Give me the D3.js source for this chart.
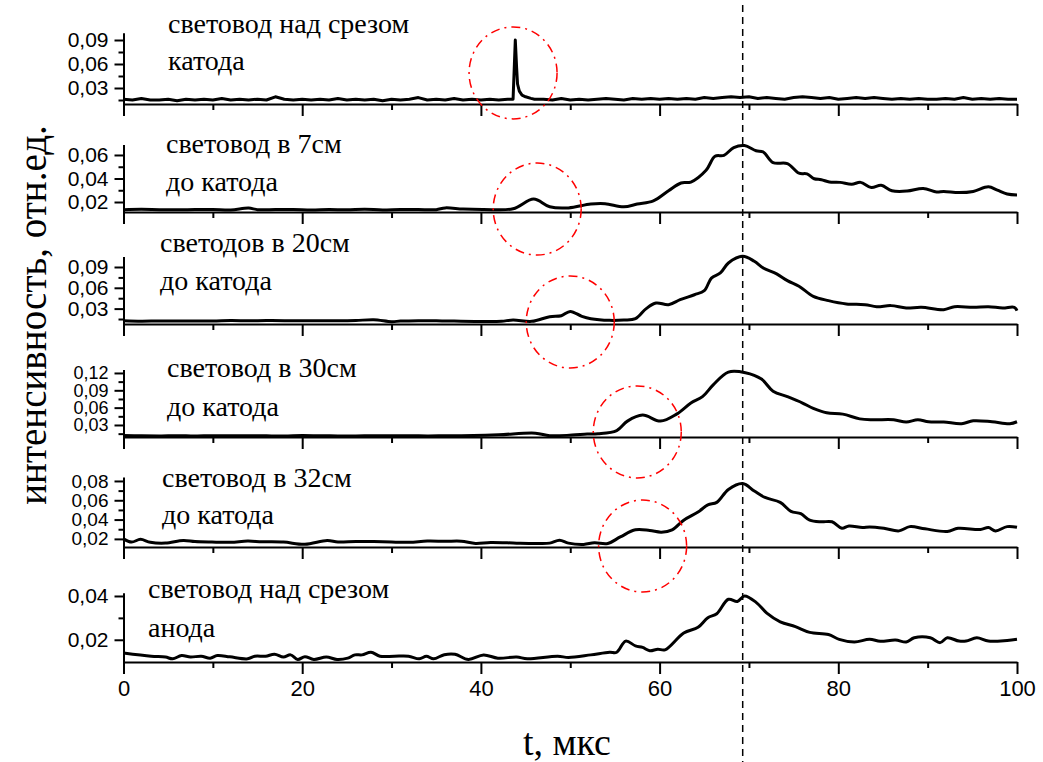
<!DOCTYPE html>
<html>
<head>
<meta charset="utf-8">
<script src="https://cdn.jsdelivr.net/npm/d3@7"></script>
<style>
  body { margin: 0; background: #fff; }
  .tick text { font-family: "Liberation Sans", Arial, sans-serif; }
  .lbl { font-family: "Liberation Serif", "Times New Roman", serif; }
</style>
</head>
<body>
<div id="viz"></div>
<script>
// ---- data: time (mks) and intensity (rel. units) for each light guide ----
var t1 = [0,1,2,3,4,5,6,7,8,9,10,11,12,13,14,15,16,17,18,19,20,21,22,23,24,25,26,27,28,29,30,31,32,33,34,35,36,37,38,39,40,41,42,43,
  43.6,43.75,43.85,44.0,44.1,44.3,44.6,45,45.6,
  46,47,48,49,50,51,52,53,54,55,56,57,58,59,60,61,62,63,64,65,66,67,68,69,70,71,72,73,74,75,76,77,78,79,80,81,82,83,84,85,86,87,88,89,90,91,92,93,94,95,96,97,98,99,100];
var v1 = [0.016,0.015,0.017,0.015,0.015,0.016,0.014,0.016,0.015,0.016,0.015,0.017,0.015,0.016,0.015,0.016,0.015,0.019,0.016,0.015,0.016,0.015,0.016,0.015,0.017,0.015,0.016,0.015,0.016,0.014,0.016,0.015,0.016,0.018,0.015,0.016,0.015,0.017,0.015,0.016,0.015,0.016,0.015,0.016,
  0.016,0.060,0.090,0.055,0.035,0.026,0.021,0.019,0.017,
  0.016,0.016,0.015,0.017,0.015,0.016,0.015,0.016,0.017,0.016,0.015,0.017,0.016,0.017,0.016,0.017,0.016,0.017,0.016,0.018,0.017,0.018,0.019,0.018,0.019,0.017,0.018,0.017,0.016,0.018,0.019,0.018,0.017,0.018,0.016,0.017,0.018,0.017,0.018,0.017,0.016,0.017,0.016,0.017,0.016,0.016,0.017,0.016,0.018,0.016,0.017,0.016,0.017,0.016,0.016];

var t2 = [0,2,4,6,8,10,12,14,15,17,19,21,23,25,27,29,31,33,35,36,38,
  40.3,43.6,45.9,47.7,49.8,52.3,53.9,56.0,57.5,59.3,61.0,62.4,63.5,65.2,66.2,67.2,68.3,69.5,70.8,71.6,
  72.7,74.3,75.6,76.5,77.3,78.1,79.0,80.2,81.5,82.5,83.7,84.8,86.0,87.7,89.5,91.0,91.8,93.5,95.1,96.8,97.8,98.9,100];
var v2 = [0.0135,0.0138,0.0135,0.0134,0.0136,0.0137,0.0132,0.0148,0.0135,0.0136,0.0137,0.0133,0.0136,0.0134,0.0138,0.0133,0.0137,0.0136,0.0135,0.0150,0.0140,
  0.0137,0.0142,0.0225,0.0159,0.0150,0.0183,0.0186,0.0159,0.0183,0.0210,0.0296,0.0362,0.0370,0.0470,0.0589,0.0597,0.0663,0.0680,0.0636,0.0625,
  0.0535,0.0527,0.0445,0.0439,0.0398,0.0390,0.0370,0.0367,0.0351,0.0367,0.0323,0.0342,0.0296,0.0293,0.0315,0.0285,0.0290,0.0280,0.0290,0.0329,0.0301,0.0268,0.0260];

var t3 = [0,2,4,6,8,10,12,14,16,18,20,22,24,26,28,30,31,33,35,37,
  40.3,42.3,43.6,45.7,47.7,49.0,50.0,51.3,52.3,54.4,56.0,57.3,58.5,59.6,61.0,62.3,63.9,65.0,65.8,66.8,
  67.7,69.3,70.6,71.6,73.1,74.3,75.6,77.2,78.9,80.9,83.0,84.3,85.9,87.6,89.3,91.8,93.0,95.1,96.8,98.4,99.7,100];
var v3 = [0.0125,0.0118,0.0122,0.0120,0.0123,0.0121,0.0128,0.0125,0.0127,0.0125,0.0124,0.0126,0.0124,0.0128,0.0140,0.0112,0.0120,0.0126,0.0124,0.0120,
  0.0115,0.0118,0.0136,0.0116,0.0184,0.0198,0.0260,0.0189,0.0155,0.0131,0.0136,0.0155,0.0300,0.0380,0.0357,0.0429,0.0500,0.0559,0.0740,0.0814,
  0.0958,0.1054,0.0982,0.0886,0.0800,0.0703,0.0622,0.0477,0.0415,0.0367,0.0357,0.0328,0.0343,0.0309,0.0319,0.0285,0.0328,0.0319,0.0328,0.0309,0.0319,0.0270];

var t4 = [0,2,4,6,8,10,12,14,16,18,20,22,24,26,28,30,32,34,36,
  37.8,42.0,46.1,47.7,50.2,51.9,53.1,55.2,56.4,58.1,60.1,61.9,63.5,64.8,66.0,67.7,69.6,71.4,72.7,74.3,
  76.0,77.2,78.7,80.5,82.4,83.9,86.2,87.6,88.9,90.1,91.8,93.8,95.1,97.2,99.2,100];
var v4 = [0.0118,0.0112,0.0110,0.0113,0.0111,0.0114,0.0112,0.0115,0.0112,0.0110,0.0117,0.0113,0.0111,0.0110,0.0114,0.0112,0.0115,0.0111,0.0113,
  0.0114,0.0131,0.0158,0.0114,0.0125,0.0142,0.0147,0.0202,0.0367,0.0472,0.0367,0.0488,0.0680,0.0790,0.0994,0.1215,0.1204,0.1094,0.0885,0.0790,
  0.0680,0.0587,0.0510,0.0488,0.0406,0.0390,0.0390,0.0351,0.0390,0.0356,0.0351,0.0323,0.0373,0.0356,0.0323,0.0356];

var t5 = [0,0.9,1.9,3,4.7,6.7,8,9.9,12,13.9,15.5,17.9,20.3,22.8,24,26,28,30,32,34,36,
  37.8,39.4,41.1,44.0,46.1,47.7,48.8,49.8,51.5,52.7,54.2,55.6,57.3,58.9,60.2,61.4,62.7,64.3,65.4,66.4,
  67.7,69.3,70.6,71.8,73.5,74.7,75.8,76.8,78.1,79.3,80.4,81.2,82.7,83.5,85.1,86.8,88.0,89.7,92.2,93.4,95.9,96.8,97.6,98.9,100];
var v5 = [0.0200,0.0167,0.0195,0.0165,0.0157,0.0184,0.0172,0.0167,0.0165,0.0177,0.0170,0.0167,0.0144,0.0184,0.0168,0.0174,0.0172,0.0167,0.0165,0.0177,0.0175,
  0.0176,0.0153,0.0163,0.0156,0.0153,0.0156,0.0186,0.0156,0.0143,0.0160,0.0153,0.0220,0.0294,0.0287,0.0270,0.0294,0.0394,0.0478,0.0552,0.0578,
  0.0712,0.0773,0.0696,0.0629,0.0578,0.0485,0.0461,0.0394,0.0377,0.0377,0.0310,0.0334,0.0317,0.0324,0.0310,0.0283,0.0327,0.0304,0.0277,0.0310,0.0297,0.0317,0.0283,0.0327,0.0320];

var t6 = [0,3.1,4.7,5.5,6.5,7.5,8.7,9.7,10.5,11.9,13.9,14.7,15.9,16.9,17.9,18.7,19.5,20.3,21.3,22.7,23.9,25.1,25.9,26.7,27.7,28.7,30.3,31.9,33.1,33.9,34.7,35.9,37.1,
  38.6,40.3,41.9,44.0,45.2,48.6,49.8,52.3,54.4,55.2,56.2,57.3,58.1,58.9,59.8,60.6,62.7,64.3,65.4,66.4,
  67.7,68.7,69.5,70.8,72.0,73.5,75.2,76.8,78.9,80.1,81.8,83.5,84.7,86.4,87.6,88.5,90.3,91.4,92.2,93.5,94.3,95.5,96.8,98.9,100];
var v6 = [0.0140,0.0125,0.0121,0.0113,0.0128,0.0121,0.0125,0.0116,0.0128,0.0122,0.0113,0.0125,0.0125,0.0134,0.0121,0.0131,0.0110,0.0123,0.0110,0.0121,0.0110,0.0116,0.0131,0.0131,0.0143,0.0125,0.0125,0.0125,0.0113,0.0125,0.0113,0.0132,0.0134,
  0.0110,0.0131,0.0116,0.0121,0.0113,0.0125,0.0119,0.0131,0.0143,0.0143,0.0194,0.0172,0.0165,0.0150,0.0157,0.0154,0.0231,0.0257,0.0301,0.0319,
  0.0385,0.0375,0.0400,0.0371,0.0322,0.0282,0.0260,0.0234,0.0224,0.0202,0.0190,0.0202,0.0193,0.0199,0.0190,0.0209,0.0209,0.0187,0.0209,0.0194,0.0194,0.0209,0.0194,0.0197,0.0202];

// panel captions
var caption1 = ['световод над срезом', 'световод в 7см', 'светодов в 20см', 'световод в 30см', 'световод в 32см', 'световод над срезом'];
var caption2 = ['катода', 'до катода', 'до катода', 'до катода', 'до катода', 'анода'];

// y axis tick labels (major) and minor ticks per panel
var yTicks = [[0.03,0.06,0.09], [0.02,0.04,0.06], [0.03,0.06,0.09], [0.03,0.06,0.09,0.12], [0.02,0.04,0.06,0.08], [0.02,0.04]];
var yMinor = [[0.015,0.045,0.075], [0.03,0.05], [0.015,0.045,0.075], [0.015,0.045,0.075,0.105], [0.03,0.05,0.07], [0.03]];
var yLow  = [0.010, 0.0115, 0.0078, 0.0092, 0.0116, 0.00985];
var yHigh = [0.099, 0.069, 0.105, 0.126, 0.084, 0.0415];

// x axis ticks
var xTicks = [0,20,40,60,80,100];
var xMinor = [10,30,50,70,90];

// red marks: time of the early signal in panels 1..5
var markT = [43.6, 46.3, 50.0, 57.5, 58.1];
var markV = [0.0489, 0.0140, 0.0107, 0.0180, 0.0126];
var peakT = 69.3;

// ---- layout ----
var W = 1043, H = 762;
var panelBottom = [104, 212, 324, 437, 547, 662];
var panelTop    = [32.8, 144.4, 256.6, 369.5, 477.1, 592.7];
var labelX = [168, 166, 160, 167, 162, 148];
var label1Y = [33, 153, 252, 377, 487, 598];
var label2Y = [70, 191, 290, 416, 524, 637];
// tick label size: the crowded panels get a slightly smaller font
var tickFont = [21, 21, 21, 18, 19, 21];

var svg = d3.select('#viz').append('svg')
  .attr('width', W)
  .attr('height', H)
  .style('background', '#fff');

var x = d3.scaleLinear().domain([0, 100]).range([123.5, 1017]);

var series = [[t1,v1],[t2,v2],[t3,v3],[t4,v4],[t5,v5],[t6,v6]];
var fmt = function(d) { return d.toFixed(2).replace('.', ','); };

series.forEach(function(s, i) {
  var y = d3.scaleLinear().domain([yLow[i], yHigh[i]]).range([panelBottom[i], panelTop[i]]);
  var g = svg.append('g').attr('class', 'panel');

  // x axis (major + minor)
  var xg = g.append('g').attr('transform', 'translate(0,' + panelBottom[i] + ')')
    .call(d3.axisBottom(x).tickValues(xTicks).tickSize(12).tickSizeOuter(0).tickPadding(6)
      .tickFormat(i == 5 ? d3.format('d') : ''));
  xg.selectAll('.tick text').attr('font-size', 22);
  g.append('g').attr('transform', 'translate(0,' + panelBottom[i] + ')')
    .call(d3.axisBottom(x).tickValues(xMinor).tickSize(6).tickFormat(''))
    .select('.domain').remove();

  // y axis (major + minor)
  var yg = g.append('g').attr('transform', 'translate(' + x(0) + ',0)')
    .call(d3.axisLeft(y).tickValues(yTicks[i]).tickSize(9).tickSizeOuter(0).tickPadding(6).tickFormat(fmt));
  yg.selectAll('.tick text').attr('font-size', tickFont[i]);
  g.append('g').attr('transform', 'translate(' + x(0) + ',0)')
    .call(d3.axisLeft(y).tickValues(yMinor[i]).tickSize(5).tickFormat(''))
    .select('.domain').remove();

  g.selectAll('.domain').attr('stroke-width', 2);
  g.selectAll('.tick line').attr('stroke-width', 2);
  g.selectAll('.tick text').attr('fill', '#000');

  // the signal
  var pts = s[0].map(function(t, k) { return [t, s[1][k]]; });
  var line = d3.line()
    .x(function(d) { return x(d[0]); })
    .y(function(d) { return y(d[1]); })
    .curve(i == 0 ? d3.curveLinear : d3.curveCatmullRom);
  g.append('path')
    .datum(pts)
    .attr('d', line)
    .attr('fill', 'none')
    .attr('stroke', '#000')
    .attr('stroke-width', 3)
    .attr('stroke-linejoin', 'round');

  // caption
  g.append('text').attr('class', 'lbl')
    .attr('x', labelX[i]).attr('y', label1Y[i])
    .attr('font-size', 28).text(caption1[i]);
  g.append('text').attr('class', 'lbl')
    .attr('x', labelX[i]).attr('y', label2Y[i])
    .attr('font-size', 28).text(caption2[i]);

  // red dash-dot ellipse round the early signal
  if (i < 5) {
    g.append('ellipse')
      .attr('cx', x(markT[i]))
      .attr('cy', y(markV[i]))
      .attr('rx', 44)
      .attr('ry', 46)
      .attr('fill', 'none')
      .attr('stroke', '#ff0000')
      .attr('stroke-width', 1.5)
      .attr('stroke-dasharray', '9,5,2,5');
  }
});

// dashed line through the peaks
svg.append('line')
  .attr('x1', x(peakT)).attr('x2', x(peakT))
  .attr('y1', 5).attr('y2', H)
  .attr('stroke', '#000')
  .attr('stroke-width', 1.5)
  .attr('stroke-dasharray', '7,5');

// axis titles
svg.append('text').attr('class', 'lbl')
  .attr('x', 567).attr('y', 755)
  .attr('text-anchor', 'middle')
  .attr('font-size', 38)
  .text('t, мкс');

svg.append('text').attr('class', 'lbl')
  .attr('transform', 'translate(46,315) rotate(-90)')
  .attr('text-anchor', 'middle')
  .attr('font-size', 39)
  .text('интенсивность, отн.ед.');
</script>
</body>
</html>
